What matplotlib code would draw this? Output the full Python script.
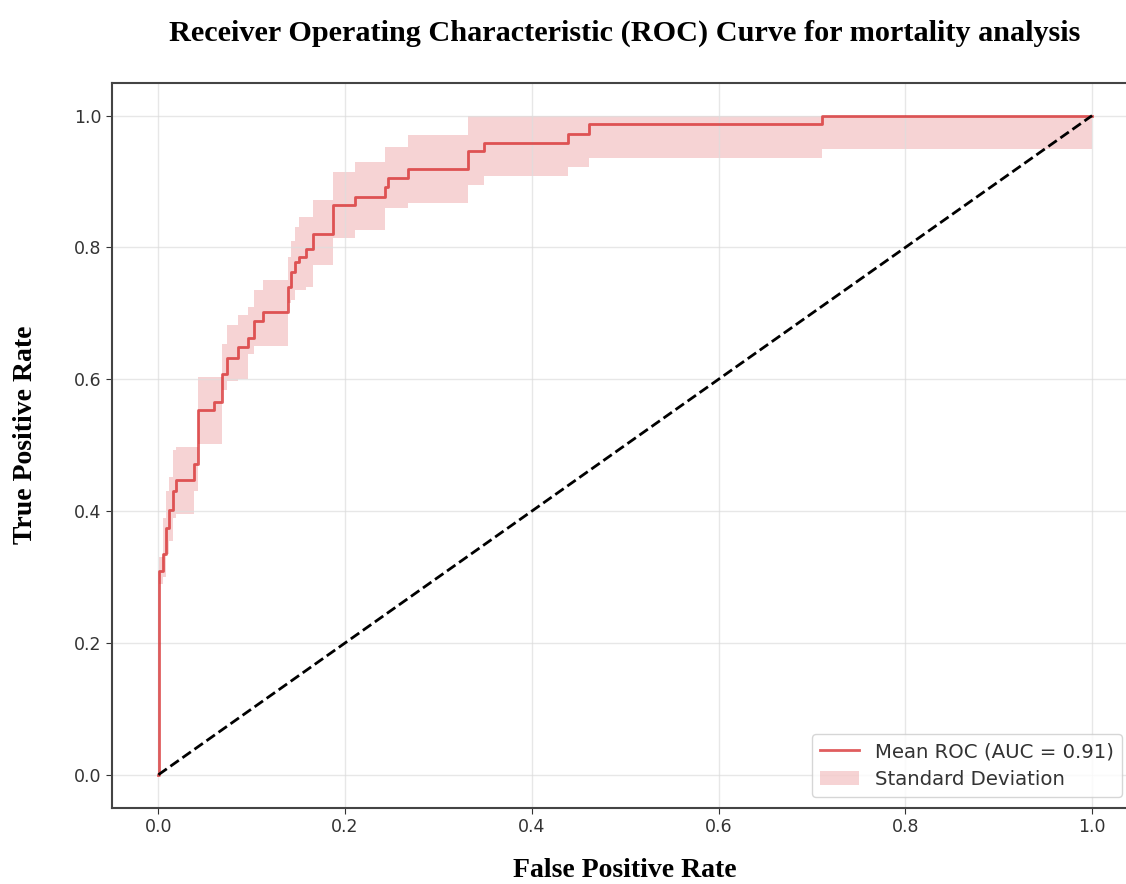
import matplotlib
matplotlib.use("Agg")
import matplotlib.pyplot as plt

# mean ROC over the folds
fpr = [0.0, 0.001, 0.0046, 0.0083, 0.0118, 0.0153, 0.019, 0.0386,
       0.0429, 0.060, 0.068, 0.0732, 0.085, 0.0957, 0.1029, 0.1118,
       0.1386, 0.1422, 0.1458, 0.1511, 0.1583, 0.1654, 0.1868, 0.2101,
       0.2422, 0.2458, 0.2672, 0.3315, 0.3483, 0.4387, 0.4612, 0.7103, 1.0]
mean_tpr = [0.0, 0.309, 0.335, 0.375, 0.401, 0.431, 0.447, 0.472,
            0.553, 0.565, 0.608, 0.632, 0.649, 0.662, 0.688, 0.702,
            0.740, 0.762, 0.778, 0.786, 0.798, 0.821, 0.864, 0.877,
            0.891, 0.905, 0.919, 0.946, 0.959, 0.972, 0.987, 1.0, 1.0]
tpr_upper = [0.0, 0.33, 0.39, 0.431, 0.451, 0.492, 0.497, 0.497,
             0.603, 0.603, 0.654, 0.682, 0.697, 0.71, 0.735, 0.750,
             0.786, 0.81, 0.831, 0.846, 0.846, 0.872, 0.915, 0.930,
             0.953, 0.953, 0.971, 1.0, 1.0, 1.0, 1.0, 1.0, 1.0]
tpr_lower = [0.0, 0.29, 0.30, 0.335, 0.355, 0.39, 0.396, 0.431,
             0.502, 0.502, 0.583, 0.598, 0.60, 0.639, 0.651, 0.651,
             0.715, 0.72, 0.735, 0.735, 0.74, 0.773, 0.814, 0.826,
             0.860, 0.860, 0.867, 0.895, 0.908, 0.922, 0.936, 0.949, 0.949]
mean_auc = 0.91
ticks = [0.0, 0.2, 0.4, 0.6, 0.8, 1.0]

fig = plt.figure(figsize=(11.26, 8.84), dpi=100)
# right edge of the axes sits just past the picture, like the cropped original
ax = fig.add_axes([0.0992, 0.0863, 0.9121, 0.8202])

ax.plot([0, 1], [0, 1], linestyle='--', color='black', lw=2, zorder=3)
band = ax.fill_between(fpr, tpr_lower, tpr_upper, step='post', color='#d62728',
                       alpha=0.2, lw=0, label='Standard Deviation')
line, = ax.plot(fpr, mean_tpr, drawstyle='steps-post', color='#d62728', alpha=0.75, lw=2,
                label='Mean ROC (AUC = %0.2f)' % mean_auc)

ax.set_xlim(-0.05, 1.05)
ax.set_ylim(-0.05, 1.05)
ax.set_xticks(ticks)
ax.set_yticks(ticks)
ax.tick_params(labelsize=12.5, colors='#333333', length=4)
ax.grid(True, color='#dddddd', lw=1, alpha=0.7)
ax.spines['right'].set_visible(False)
for s in ['left', 'bottom', 'top']:
    ax.spines[s].set_color('#444444')
    ax.spines[s].set_linewidth(1.5)

serif = {'family': 'Liberation Serif', 'weight': 'bold'}
ax.set_xlabel('False Positive Rate', fontdict=serif, fontsize=20)
ax.set_ylabel('True Positive Rate', fontdict=serif, fontsize=20)
ax.xaxis.set_label_coords(0.5, -0.07)
ax.yaxis.set_label_coords(-0.072, 0.514)
fig.text(0.555, 0.962, 'Receiver Operating Characteristic (ROC) Curve for mortality analysis',
         ha='center', va='center', fontdict=serif, fontsize=21.8)

leg = ax.legend([line, band], [line.get_label(), band.get_label()],
                loc='lower right', bbox_to_anchor=(0.9838, 0.0148), borderaxespad=0,
                fontsize=14.2, framealpha=0.8, fancybox=True, labelspacing=0.45)
for t in leg.get_texts():
    t.set_color('#333333')

plt.savefig('out.png', dpi=100)
